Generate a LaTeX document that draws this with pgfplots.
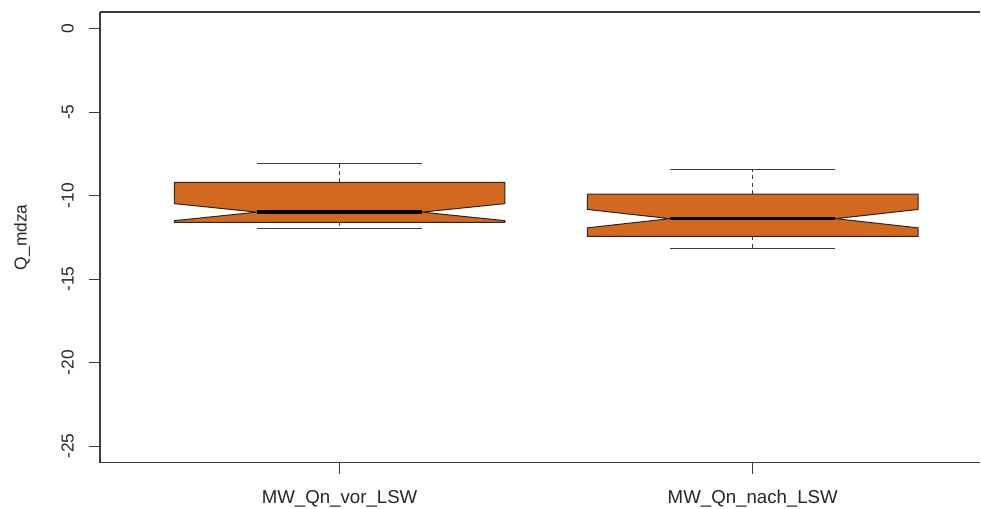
\documentclass[border=0pt]{standalone}
\usepackage{pgfplots}
\pgfplotsset{compat=1.18}
\usepackage{fontspec}
\setmainfont{Liberation Sans}
\definecolor{boxfill}{RGB}{210,105,30}
\definecolor{linegray}{RGB}{60,60,60}

\begin{document}
\begin{tikzpicture}
% page area
\path (-75pt,-34.5pt) rectangle (660.75pt,347.25pt);
\begin{axis}[
  at={(0,0)}, anchor=south west,
  scale only axis,
  width=660.75pt, height=338.25pt,
  xmin=0.42, xmax=2.551, ymin=-26, ymax=1,
  separate axis lines,
  axis x line*=box, axis y line*=left,
  xtick={1,2},
  xticklabels={MW\_Qn\_vor\_LSW, MW\_Qn\_nach\_LSW},
  ytick={-25,-20,-15,-10,-5,0},
  yticklabels={-25,-20,-15,-10,-5,0},
  tick align=outside, xtick pos=bottom, ytick pos=left,
  major tick length=8.5pt,
  tick style={linegray, line width=0.75pt},
  axis line style={linegray, line width=0.9pt, -},
  ticklabel style={text=black!85},
  yticklabel style={rotate=90, anchor=south, inner sep=0pt,
    font=\fontsize{13}{15}\selectfont},
  yticklabel shift=11pt,
  xticklabel style={anchor=north, inner sep=0pt,
    font=\fontsize{14}{16}\selectfont},
  xticklabel shift=12pt,
  ylabel={Q\_mdza},
  ylabel style={at={(axis description cs:-0.0885,0.5)}, anchor=center,
    font=\fontsize{13}{15}\selectfont, text=black!85},
]
% whiskers (dashed) and caps
\addplot[linegray, line width=0.75pt, dash pattern=on 3pt off 2.5pt] coordinates {(1,-9.21) (1,-8.07)};
\addplot[linegray, line width=0.75pt, dash pattern=on 3pt off 2.5pt] coordinates {(1,-11.60) (1,-11.98)};
\addplot[linegray, line width=0.75pt] coordinates {(0.8,-8.07) (1.2,-8.07)};
\addplot[linegray, line width=0.75pt] coordinates {(0.8,-11.98) (1.2,-11.98)};
\addplot[linegray, line width=0.75pt, dash pattern=on 3pt off 2.5pt] coordinates {(2,-9.91) (2,-8.45)};
\addplot[linegray, line width=0.75pt, dash pattern=on 3pt off 2.5pt] coordinates {(2,-12.44) (2,-13.18)};
\addplot[linegray, line width=0.75pt] coordinates {(1.8,-8.45) (2.2,-8.45)};
\addplot[linegray, line width=0.75pt] coordinates {(1.8,-13.18) (2.2,-13.18)};
% notched boxes
\addplot[draw=black!85, fill=boxfill, line width=0.75pt] coordinates {
  (0.6,-9.21) (1.4,-9.21) (1.4,-10.48) (1.2,-10.99) (1.4,-11.50) (1.4,-11.60)
  (0.6,-11.60) (0.6,-11.50) (0.8,-10.99) (0.6,-10.48)} -- cycle;
\addplot[draw=black!85, fill=boxfill, line width=0.75pt] coordinates {
  (1.6,-9.91) (2.4,-9.91) (2.4,-10.83) (2.2,-11.38) (2.4,-11.93) (2.4,-12.44)
  (1.6,-12.44) (1.6,-11.93) (1.8,-11.38) (1.6,-10.83)} -- cycle;
% medians
\addplot[black, line width=2.5pt] coordinates {(0.8,-10.99) (1.2,-10.99)};
\addplot[black, line width=2.5pt] coordinates {(1.8,-11.38) (2.2,-11.38)};
\end{axis}
\end{tikzpicture}
\end{document}
